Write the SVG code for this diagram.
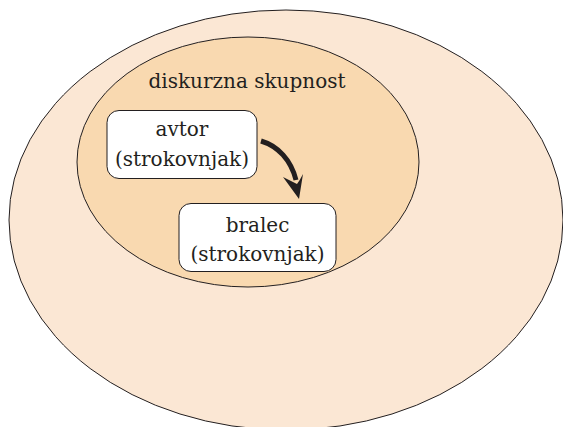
<svg xmlns="http://www.w3.org/2000/svg" width="563" height="427" viewBox="0 0 563 427">
<style>
.ell{stroke:#231f20;stroke-width:1}
.box{fill:#ffffff;stroke:#231f20;stroke-width:1}
.t{font-family:'DejaVu Serif',serif;font-size:20px;fill:#231f20;text-anchor:middle}
</style>
<rect width="563" height="427" fill="#ffffff"/>
<g id="outer"><ellipse class="ell" cx="286" cy="220" rx="277" ry="210" fill="#fbe7d4"/></g>
<g id="community">
<ellipse class="ell" cx="248" cy="162" rx="171" ry="125" fill="#f9d9b0"/>
<text class="t" x="247" y="88">diskurzna skupnost</text>
</g>
<g id="avtor">
<rect class="box" x="107" y="110.5" width="150" height="68" rx="12"/>
<text class="t" x="182" y="136">avtor</text>
<text class="t" x="182" y="166">(strokovnjak)</text>
</g>
<g id="bralec">
<rect class="box" x="179" y="203.5" width="157" height="68" rx="12"/>
<text class="t" x="257.5" y="232">bralec</text>
<text class="t" x="257.5" y="261">(strokovnjak)</text>
</g>
<g id="connectors">
<path d="M261 141 C278 146 291 160 296 180" fill="none" stroke="#231f20" stroke-width="5"/>
<path d="M299 199 L283 177 Q291 181 297 184 Q300 180 303 174 Z" fill="#231f20"/>
</g>
</svg>
